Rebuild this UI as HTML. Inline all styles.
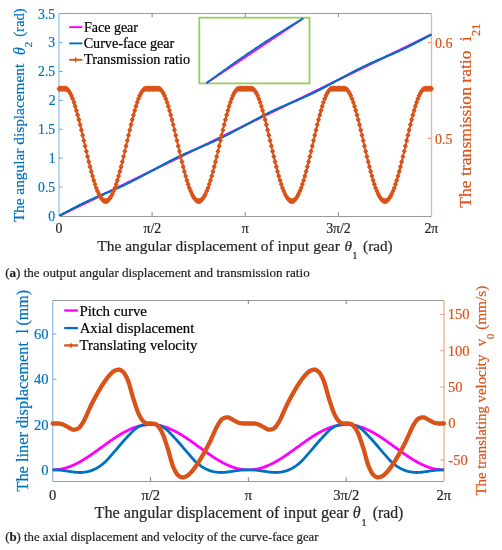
<!DOCTYPE html><html><head><meta charset="utf-8"><style>
*{margin:0;padding:0}
html,body{width:502px;height:550px;overflow:hidden;background:#fff}
text{font-family:"Liberation Serif",serif;white-space:pre}
</style></head><body><svg width="502" height="550" viewBox="0 0 502 550" style="position:absolute;left:0;top:0;will-change:transform">
<rect width="502" height="550" fill="#fff"/>
<defs><clipPath id="ca"><rect x="59.0" y="10.4" width="375.5" height="205.6"/></clipPath></defs>
<line x1="59.0" y1="13.5" x2="431.5" y2="13.5" stroke="#9a9a9a" stroke-width="1"/>
<line x1="59.0" y1="216.5" x2="431.5" y2="216.5" stroke="#9a9a9a" stroke-width="1"/>
<text x="55.55" y="233.30" style="font-size:13.8px" fill="#262626" stroke="#262626" stroke-width="0.2">0</text>
<line x1="152.12" y1="216.0" x2="152.12" y2="212.2" stroke="#777" stroke-width="0.9"/>
<line x1="152.12" y1="13.4" x2="152.12" y2="17.2" stroke="#777" stroke-width="0.9"/>
<text x="143.55" y="233.30" style="font-size:13.8px" fill="#262626" stroke="#262626" stroke-width="0.2">π/2</text>
<line x1="245.25" y1="216.0" x2="245.25" y2="212.2" stroke="#777" stroke-width="0.9"/>
<line x1="245.25" y1="13.4" x2="245.25" y2="17.2" stroke="#777" stroke-width="0.9"/>
<text x="241.80" y="233.30" style="font-size:13.8px" fill="#262626" stroke="#262626" stroke-width="0.2">π</text>
<line x1="338.38" y1="216.0" x2="338.38" y2="212.2" stroke="#777" stroke-width="0.9"/>
<line x1="338.38" y1="13.4" x2="338.38" y2="17.2" stroke="#777" stroke-width="0.9"/>
<text x="326.14" y="233.30" style="font-size:13.8px" fill="#262626" stroke="#262626" stroke-width="0.2">3π/2</text>
<text x="424.39" y="233.30" style="font-size:13.8px" fill="#262626" stroke="#262626" stroke-width="0.2">2π</text>
<line x1="59.0" y1="13.4" x2="59.0" y2="216.0" stroke="#9cc6e6" stroke-width="1.4"/>
<text x="48.36" y="220.80" style="font-size:13.7px" fill="#0072BD" stroke="#0072BD" stroke-width="0.2">0</text>
<line x1="59.0" y1="187.10" x2="62.8" y2="187.10" stroke="#6aa3d5" stroke-width="0.9"/>
<text x="38.09" y="191.90" style="font-size:13.7px" fill="#0072BD" stroke="#0072BD" stroke-width="0.2">0.5</text>
<line x1="59.0" y1="158.20" x2="62.8" y2="158.20" stroke="#6aa3d5" stroke-width="0.9"/>
<text x="48.77" y="163.00" style="font-size:13.7px" fill="#0072BD" stroke="#0072BD" stroke-width="0.2">1</text>
<line x1="59.0" y1="129.30" x2="62.8" y2="129.30" stroke="#6aa3d5" stroke-width="0.9"/>
<text x="38.09" y="134.10" style="font-size:13.7px" fill="#0072BD" stroke="#0072BD" stroke-width="0.2">1.5</text>
<line x1="59.0" y1="100.40" x2="62.8" y2="100.40" stroke="#6aa3d5" stroke-width="0.9"/>
<text x="48.63" y="105.20" style="font-size:13.7px" fill="#0072BD" stroke="#0072BD" stroke-width="0.2">2</text>
<line x1="59.0" y1="71.50" x2="62.8" y2="71.50" stroke="#6aa3d5" stroke-width="0.9"/>
<text x="38.09" y="76.30" style="font-size:13.7px" fill="#0072BD" stroke="#0072BD" stroke-width="0.2">2.5</text>
<line x1="59.0" y1="42.60" x2="62.8" y2="42.60" stroke="#6aa3d5" stroke-width="0.9"/>
<text x="48.36" y="47.40" style="font-size:13.7px" fill="#0072BD" stroke="#0072BD" stroke-width="0.2">3</text>
<text x="38.09" y="18.50" style="font-size:13.7px" fill="#0072BD" stroke="#0072BD" stroke-width="0.2">3.5</text>
<line x1="431.5" y1="13.4" x2="431.5" y2="216.0" stroke="#f0b49a" stroke-width="1.4"/>
<line x1="431.5" y1="138.40" x2="427.7" y2="138.40" stroke="#e8906a" stroke-width="0.9"/>
<text x="434.98" y="143.60" style="font-size:14.0px" fill="#D95319" stroke="#D95319" stroke-width="0.2">0.5</text>
<line x1="431.5" y1="42.50" x2="427.7" y2="42.50" stroke="#e8906a" stroke-width="0.9"/>
<text x="434.98" y="47.70" style="font-size:14.0px" fill="#D95319" stroke="#D95319" stroke-width="0.2">0.6</text>
<g clip-path="url(#ca)">
<polyline points="59.00,216.00 60.24,215.39 61.48,214.79 62.73,214.18 63.97,213.58 65.21,212.97 66.45,212.37 67.69,211.76 68.93,211.16 70.17,210.55 71.42,209.95 72.66,209.34 73.90,208.74 75.14,208.13 76.38,207.53 77.62,206.92 78.87,206.32 80.11,205.71 81.35,205.10 82.59,204.50 83.83,203.89 85.08,203.29 86.32,202.68 87.56,202.08 88.80,201.47 90.04,200.87 91.28,200.26 92.53,199.66 93.77,199.05 95.01,198.45 96.25,197.84 97.49,197.24 98.73,196.63 99.97,196.03 101.22,195.42 102.46,194.82 103.70,194.21 104.94,193.60 106.18,193.00 107.43,192.39 108.67,191.79 109.91,191.18 111.15,190.58 112.39,189.97 113.63,189.37 114.88,188.76 116.12,188.16 117.36,187.55 118.60,186.95 119.84,186.34 121.08,185.74 122.33,185.13 123.57,184.53 124.81,183.92 126.05,183.31 127.29,182.71 128.53,182.10 129.78,181.50 131.02,180.89 132.26,180.29 133.50,179.68 134.74,179.08 135.98,178.47 137.23,177.87 138.47,177.26 139.71,176.66 140.95,176.05 142.19,175.45 143.43,174.84 144.68,174.24 145.92,173.63 147.16,173.03 148.40,172.42 149.64,171.81 150.88,171.21 152.12,170.60 153.37,170.00 154.61,169.39 155.85,168.79 157.09,168.18 158.33,167.58 159.57,166.97 160.82,166.37 162.06,165.76 163.30,165.16 164.54,164.55 165.78,163.95 167.03,163.34 168.27,162.74 169.51,162.13 170.75,161.52 171.99,160.92 173.23,160.31 174.48,159.71 175.72,159.10 176.96,158.50 178.20,157.89 179.44,157.29 180.68,156.68 181.93,156.08 183.17,155.47 184.41,154.87 185.65,154.26 186.89,153.66 188.13,153.05 189.38,152.45 190.62,151.84 191.86,151.24 193.10,150.63 194.34,150.02 195.58,149.42 196.83,148.81 198.07,148.21 199.31,147.60 200.55,147.00 201.79,146.39 203.03,145.79 204.28,145.18 205.52,144.58 206.76,143.97 208.00,143.37 209.24,142.76 210.48,142.16 211.72,141.55 212.97,140.95 214.21,140.34 215.45,139.73 216.69,139.13 217.93,138.52 219.18,137.92 220.42,137.31 221.66,136.71 222.90,136.10 224.14,135.50 225.38,134.89 226.62,134.29 227.87,133.68 229.11,133.08 230.35,132.47 231.59,131.87 232.83,131.26 234.08,130.66 235.32,130.05 236.56,129.44 237.80,128.84 239.04,128.23 240.28,127.63 241.53,127.02 242.77,126.42 244.01,125.81 245.25,125.21 246.49,124.60 247.73,124.00 248.97,123.39 250.22,122.79 251.46,122.18 252.70,121.58 253.94,120.97 255.18,120.37 256.43,119.76 257.67,119.16 258.91,118.55 260.15,117.94 261.39,117.34 262.63,116.73 263.88,116.13 265.12,115.52 266.36,114.92 267.60,114.31 268.84,113.71 270.08,113.10 271.33,112.50 272.57,111.89 273.81,111.29 275.05,110.68 276.29,110.08 277.53,109.47 278.77,108.87 280.02,108.26 281.26,107.65 282.50,107.05 283.74,106.44 284.98,105.84 286.23,105.23 287.47,104.63 288.71,104.02 289.95,103.42 291.19,102.81 292.43,102.21 293.68,101.60 294.92,101.00 296.16,100.39 297.40,99.79 298.64,99.18 299.88,98.58 301.12,97.97 302.37,97.37 303.61,96.76 304.85,96.15 306.09,95.55 307.33,94.94 308.58,94.34 309.82,93.73 311.06,93.13 312.30,92.52 313.54,91.92 314.78,91.31 316.03,90.71 317.27,90.10 318.51,89.50 319.75,88.89 320.99,88.29 322.23,87.68 323.48,87.08 324.72,86.47 325.96,85.86 327.20,85.26 328.44,84.65 329.68,84.05 330.93,83.44 332.17,82.84 333.41,82.23 334.65,81.63 335.89,81.02 337.13,80.42 338.38,79.81 339.62,79.21 340.86,78.60 342.10,78.00 343.34,77.39 344.58,76.79 345.82,76.18 347.07,75.57 348.31,74.97 349.55,74.36 350.79,73.76 352.03,73.15 353.28,72.55 354.52,71.94 355.76,71.34 357.00,70.73 358.24,70.13 359.48,69.52 360.73,68.92 361.97,68.31 363.21,67.71 364.45,67.10 365.69,66.50 366.93,65.89 368.18,65.29 369.42,64.68 370.66,64.07 371.90,63.47 373.14,62.86 374.38,62.26 375.62,61.65 376.87,61.05 378.11,60.44 379.35,59.84 380.59,59.23 381.83,58.63 383.07,58.02 384.32,57.42 385.56,56.81 386.80,56.21 388.04,55.60 389.28,55.00 390.53,54.39 391.77,53.78 393.01,53.18 394.25,52.57 395.49,51.97 396.73,51.36 397.98,50.76 399.22,50.15 400.46,49.55 401.70,48.94 402.94,48.34 404.18,47.73 405.43,47.13 406.67,46.52 407.91,45.92 409.15,45.31 410.39,44.71 411.63,44.10 412.88,43.50 414.12,42.89 415.36,42.28 416.60,41.68 417.84,41.07 419.08,40.47 420.32,39.86 421.57,39.26 422.81,38.65 424.05,38.05 425.29,37.44 426.53,36.84 427.78,36.23 429.02,35.63 430.26,35.02 431.50,34.42" fill="none" stroke="#FF00FF" stroke-width="2.2"/>
<polyline points="59.00,216.00 60.24,215.33 61.48,214.66 62.73,214.00 63.97,213.33 65.21,212.66 66.45,211.99 67.69,211.32 68.93,210.66 70.17,209.99 71.42,209.33 72.66,208.68 73.90,208.02 75.14,207.37 76.38,206.73 77.62,206.09 78.87,205.46 80.11,204.84 81.35,204.22 82.59,203.60 83.83,203.00 85.08,202.40 86.32,201.81 87.56,201.22 88.80,200.64 90.04,200.07 91.28,199.50 92.53,198.94 93.77,198.39 95.01,197.84 96.25,197.29 97.49,196.75 98.73,196.21 99.97,195.68 101.22,195.15 102.46,194.62 103.70,194.09 104.94,193.57 106.18,193.04 107.43,192.51 108.67,191.98 109.91,191.46 111.15,190.92 112.39,190.39 113.63,189.85 114.88,189.31 116.12,188.77 117.36,188.22 118.60,187.66 119.84,187.10 121.08,186.54 122.33,185.96 123.57,185.38 124.81,184.80 126.05,184.21 127.29,183.61 128.53,183.00 129.78,182.39 131.02,181.77 132.26,181.14 133.50,180.51 134.74,179.87 135.98,179.23 137.23,178.58 138.47,177.93 139.71,177.27 140.95,176.61 142.19,175.95 143.43,175.28 144.68,174.61 145.92,173.94 147.16,173.28 148.40,172.61 149.64,171.94 150.88,171.27 152.12,170.60 153.37,169.94 154.61,169.27 155.85,168.60 157.09,167.93 158.33,167.26 159.57,166.60 160.82,165.93 162.06,165.26 163.30,164.60 164.54,163.94 165.78,163.28 167.03,162.63 168.27,161.98 169.51,161.34 170.75,160.70 171.99,160.07 173.23,159.44 174.48,158.82 175.72,158.21 176.96,157.60 178.20,157.00 179.44,156.41 180.68,155.82 181.93,155.25 183.17,154.67 184.41,154.11 185.65,153.55 186.89,152.99 188.13,152.44 189.38,151.89 190.62,151.35 191.86,150.82 193.10,150.28 194.34,149.75 195.58,149.22 196.83,148.70 198.07,148.17 199.31,147.64 200.55,147.12 201.79,146.59 203.03,146.06 204.28,145.53 205.52,145.00 206.76,144.46 208.00,143.92 209.24,143.37 210.48,142.82 211.72,142.27 212.97,141.71 214.21,141.14 215.45,140.57 216.69,139.99 217.93,139.40 219.18,138.81 220.42,138.21 221.66,137.60 222.90,136.99 224.14,136.37 225.38,135.75 226.62,135.11 227.87,134.48 229.11,133.83 230.35,133.18 231.59,132.53 232.83,131.87 234.08,131.21 235.32,130.55 236.56,129.88 237.80,129.22 239.04,128.55 240.28,127.88 241.53,127.21 242.77,126.54 244.01,125.88 245.25,125.21 246.49,124.54 247.73,123.87 248.97,123.20 250.22,122.54 251.46,121.87 252.70,121.20 253.94,120.53 255.18,119.87 256.43,119.20 257.67,118.54 258.91,117.88 260.15,117.23 261.39,116.58 262.63,115.94 263.88,115.30 265.12,114.67 266.36,114.04 267.60,113.42 268.84,112.81 270.08,112.21 271.33,111.61 272.57,111.01 273.81,110.43 275.05,109.85 276.29,109.28 277.53,108.71 278.77,108.15 280.02,107.59 281.26,107.04 282.50,106.50 283.74,105.96 284.98,105.42 286.23,104.89 287.47,104.36 288.71,103.83 289.95,103.30 291.19,102.77 292.43,102.25 293.68,101.72 294.92,101.19 296.16,100.66 297.40,100.13 298.64,99.60 299.88,99.06 301.12,98.52 302.37,97.98 303.61,97.43 304.85,96.87 306.09,96.31 307.33,95.74 308.58,95.17 309.82,94.59 311.06,94.01 312.30,93.41 313.54,92.81 314.78,92.21 316.03,91.60 317.27,90.98 318.51,90.35 319.75,89.72 320.99,89.08 322.23,88.44 323.48,87.79 324.72,87.14 325.96,86.48 327.20,85.82 328.44,85.15 329.68,84.49 330.93,83.82 332.17,83.15 333.41,82.48 334.65,81.82 335.89,81.15 337.13,80.48 338.38,79.81 339.62,79.14 340.86,78.48 342.10,77.81 343.34,77.14 344.58,76.47 345.82,75.80 347.07,75.14 348.31,74.47 349.55,73.81 350.79,73.15 352.03,72.49 353.28,71.84 354.52,71.19 355.76,70.54 357.00,69.91 358.24,69.27 359.48,68.65 360.73,68.03 361.97,67.42 363.21,66.81 364.45,66.21 365.69,65.62 366.93,65.03 368.18,64.45 369.42,63.88 370.66,63.31 371.90,62.75 373.14,62.20 374.38,61.65 375.62,61.10 376.87,60.56 378.11,60.02 379.35,59.49 380.59,58.96 381.83,58.43 383.07,57.90 384.32,57.38 385.56,56.85 386.80,56.32 388.04,55.80 389.28,55.27 390.53,54.74 391.77,54.20 393.01,53.67 394.25,53.13 395.49,52.58 396.73,52.03 397.98,51.47 399.22,50.91 400.46,50.35 401.70,49.77 402.94,49.20 404.18,48.61 405.43,48.02 406.67,47.42 407.91,46.81 409.15,46.20 410.39,45.58 411.63,44.95 412.88,44.32 414.12,43.68 415.36,43.04 416.60,42.39 417.84,41.74 419.08,41.08 420.32,40.42 421.57,39.76 422.81,39.09 424.05,38.42 425.29,37.76 426.53,37.09 427.78,36.42 429.02,35.75 430.26,35.08 431.50,34.42" fill="none" stroke="#0072BD" stroke-width="2.2"/>
</g>
<polyline points="59.00,88.80 60.24,88.80 61.48,88.80 62.73,88.80 63.97,88.80 65.21,88.80 66.45,88.88 67.69,89.67 68.93,91.13 70.17,93.19 71.42,95.77 72.66,98.84 73.90,102.34 75.14,106.23 76.38,110.47 77.62,115.01 78.87,119.80 80.11,124.81 81.35,129.98 82.59,135.26 83.83,140.61 85.08,145.99 86.32,151.33 87.56,156.61 88.80,161.76 90.04,166.76 91.28,171.55 92.53,176.10 93.77,180.36 95.01,184.30 96.25,187.90 97.49,191.11 98.73,193.92 99.97,196.29 101.22,198.21 102.46,199.67 103.70,200.65 104.94,201.14 106.18,201.14 107.43,200.65 108.67,199.67 109.91,198.21 111.15,196.29 112.39,193.92 113.63,191.11 114.88,187.90 116.12,184.30 117.36,180.36 118.60,176.10 119.84,171.55 121.08,166.76 122.33,161.76 123.57,156.61 124.81,151.33 126.05,145.99 127.29,140.61 128.53,135.26 129.78,129.98 131.02,124.81 132.26,119.80 133.50,115.01 134.74,110.47 135.98,106.23 137.23,102.34 138.47,98.84 139.71,95.77 140.95,93.19 142.19,91.13 143.43,89.67 144.68,88.88 145.92,88.80 147.16,88.80 148.40,88.80 149.64,88.80 150.88,88.80 152.12,88.80 153.37,88.80 154.61,88.80 155.85,88.80 157.09,88.80 158.33,88.80 159.57,88.88 160.82,89.67 162.06,91.13 163.30,93.19 164.54,95.77 165.78,98.84 167.03,102.34 168.27,106.23 169.51,110.47 170.75,115.01 171.99,119.80 173.23,124.81 174.48,129.98 175.72,135.26 176.96,140.61 178.20,145.99 179.44,151.33 180.68,156.61 181.93,161.76 183.17,166.76 184.41,171.55 185.65,176.10 186.89,180.36 188.13,184.30 189.38,187.90 190.62,191.11 191.86,193.92 193.10,196.29 194.34,198.21 195.58,199.67 196.83,200.65 198.07,201.14 199.31,201.14 200.55,200.65 201.79,199.67 203.03,198.21 204.28,196.29 205.52,193.92 206.76,191.11 208.00,187.90 209.24,184.30 210.48,180.36 211.72,176.10 212.97,171.55 214.21,166.76 215.45,161.76 216.69,156.61 217.93,151.33 219.18,145.99 220.42,140.61 221.66,135.26 222.90,129.98 224.14,124.81 225.38,119.80 226.62,115.01 227.87,110.47 229.11,106.23 230.35,102.34 231.59,98.84 232.83,95.77 234.08,93.19 235.32,91.13 236.56,89.67 237.80,88.88 239.04,88.80 240.28,88.80 241.53,88.80 242.77,88.80 244.01,88.80 245.25,88.80 246.49,88.80 247.73,88.80 248.97,88.80 250.22,88.80 251.46,88.80 252.70,88.88 253.94,89.67 255.18,91.13 256.43,93.19 257.67,95.77 258.91,98.84 260.15,102.34 261.39,106.23 262.63,110.47 263.88,115.01 265.12,119.80 266.36,124.81 267.60,129.98 268.84,135.26 270.08,140.61 271.33,145.99 272.57,151.33 273.81,156.61 275.05,161.76 276.29,166.76 277.53,171.55 278.77,176.10 280.02,180.36 281.26,184.30 282.50,187.90 283.74,191.11 284.98,193.92 286.23,196.29 287.47,198.21 288.71,199.67 289.95,200.65 291.19,201.14 292.43,201.14 293.68,200.65 294.92,199.67 296.16,198.21 297.40,196.29 298.64,193.92 299.88,191.11 301.12,187.90 302.37,184.30 303.61,180.36 304.85,176.10 306.09,171.55 307.33,166.76 308.58,161.76 309.82,156.61 311.06,151.33 312.30,145.99 313.54,140.61 314.78,135.26 316.03,129.98 317.27,124.81 318.51,119.80 319.75,115.01 320.99,110.47 322.23,106.23 323.48,102.34 324.72,98.84 325.96,95.77 327.20,93.19 328.44,91.13 329.68,89.67 330.93,88.88 332.17,88.80 333.41,88.80 334.65,88.80 335.89,88.80 337.13,88.80 338.38,88.80 339.62,88.80 340.86,88.80 342.10,88.80 343.34,88.80 344.58,88.80 345.82,88.88 347.07,89.67 348.31,91.13 349.55,93.19 350.79,95.77 352.03,98.84 353.28,102.34 354.52,106.23 355.76,110.47 357.00,115.01 358.24,119.80 359.48,124.81 360.73,129.98 361.97,135.26 363.21,140.61 364.45,145.99 365.69,151.33 366.93,156.61 368.18,161.76 369.42,166.76 370.66,171.55 371.90,176.10 373.14,180.36 374.38,184.30 375.62,187.90 376.87,191.11 378.11,193.92 379.35,196.29 380.59,198.21 381.83,199.67 383.07,200.65 384.32,201.14 385.56,201.14 386.80,200.65 388.04,199.67 389.28,198.21 390.53,196.29 391.77,193.92 393.01,191.11 394.25,187.90 395.49,184.30 396.73,180.36 397.98,176.10 399.22,171.55 400.46,166.76 401.70,161.76 402.94,156.61 404.18,151.33 405.43,145.99 406.67,140.61 407.91,135.26 409.15,129.98 410.39,124.81 411.63,119.80 412.88,115.01 414.12,110.47 415.36,106.23 416.60,102.34 417.84,98.84 419.08,95.77 420.32,93.19 421.57,91.13 422.81,89.67 424.05,88.88 425.29,88.80 426.53,88.80 427.78,88.80 429.02,88.80 430.26,88.80 431.50,88.80" fill="none" stroke="#D95319" stroke-width="1.6"/>
<path d="M56.50,88.80L59.00,85.60L61.50,88.80L59.00,92.00ZM57.74,88.80L60.24,85.60L62.74,88.80L60.24,92.00ZM58.98,88.80L61.48,85.60L63.98,88.80L61.48,92.00ZM60.23,88.80L62.73,85.60L65.22,88.80L62.73,92.00ZM61.47,88.80L63.97,85.60L66.47,88.80L63.97,92.00ZM62.71,88.80L65.21,85.60L67.71,88.80L65.21,92.00ZM63.95,88.88L66.45,85.68L68.95,88.88L66.45,92.08ZM65.19,89.67L67.69,86.47L70.19,89.67L67.69,92.87ZM66.43,91.13L68.93,87.93L71.43,91.13L68.93,94.33ZM67.67,93.19L70.17,89.99L72.67,93.19L70.17,96.39ZM68.92,95.77L71.42,92.57L73.92,95.77L71.42,98.97ZM70.16,98.84L72.66,95.64L75.16,98.84L72.66,102.04ZM71.40,102.34L73.90,99.14L76.40,102.34L73.90,105.54ZM72.64,106.23L75.14,103.03L77.64,106.23L75.14,109.43ZM73.88,110.47L76.38,107.27L78.88,110.47L76.38,113.67ZM75.12,115.01L77.62,111.81L80.12,115.01L77.62,118.21ZM76.37,119.80L78.87,116.60L81.37,119.80L78.87,123.00ZM77.61,124.81L80.11,121.61L82.61,124.81L80.11,128.01ZM78.85,129.98L81.35,126.78L83.85,129.98L81.35,133.18ZM80.09,135.26L82.59,132.06L85.09,135.26L82.59,138.46ZM81.33,140.61L83.83,137.41L86.33,140.61L83.83,143.81ZM82.58,145.99L85.08,142.79L87.58,145.99L85.08,149.19ZM83.82,151.33L86.32,148.13L88.82,151.33L86.32,154.53ZM85.06,156.61L87.56,153.41L90.06,156.61L87.56,159.81ZM86.30,161.76L88.80,158.56L91.30,161.76L88.80,164.96ZM87.54,166.76L90.04,163.56L92.54,166.76L90.04,169.96ZM88.78,171.55L91.28,168.35L93.78,171.55L91.28,174.75ZM90.03,176.10L92.53,172.90L95.03,176.10L92.53,179.30ZM91.27,180.36L93.77,177.16L96.27,180.36L93.77,183.56ZM92.51,184.30L95.01,181.10L97.51,184.30L95.01,187.50ZM93.75,187.90L96.25,184.70L98.75,187.90L96.25,191.10ZM94.99,191.11L97.49,187.91L99.99,191.11L97.49,194.31ZM96.23,193.92L98.73,190.72L101.23,193.92L98.73,197.12ZM97.47,196.29L99.97,193.09L102.47,196.29L99.97,199.49ZM98.72,198.21L101.22,195.01L103.72,198.21L101.22,201.41ZM99.96,199.67L102.46,196.47L104.96,199.67L102.46,202.87ZM101.20,200.65L103.70,197.45L106.20,200.65L103.70,203.85ZM102.44,201.14L104.94,197.94L107.44,201.14L104.94,204.34ZM103.68,201.14L106.18,197.94L108.68,201.14L106.18,204.34ZM104.93,200.65L107.43,197.45L109.93,200.65L107.43,203.85ZM106.17,199.67L108.67,196.47L111.17,199.67L108.67,202.87ZM107.41,198.21L109.91,195.01L112.41,198.21L109.91,201.41ZM108.65,196.29L111.15,193.09L113.65,196.29L111.15,199.49ZM109.89,193.92L112.39,190.72L114.89,193.92L112.39,197.12ZM111.13,191.11L113.63,187.91L116.13,191.11L113.63,194.31ZM112.38,187.90L114.88,184.70L117.38,187.90L114.88,191.10ZM113.62,184.30L116.12,181.10L118.62,184.30L116.12,187.50ZM114.86,180.36L117.36,177.16L119.86,180.36L117.36,183.56ZM116.10,176.10L118.60,172.90L121.10,176.10L118.60,179.30ZM117.34,171.55L119.84,168.35L122.34,171.55L119.84,174.75ZM118.58,166.76L121.08,163.56L123.58,166.76L121.08,169.96ZM119.83,161.76L122.33,158.56L124.83,161.76L122.33,164.96ZM121.07,156.61L123.57,153.41L126.07,156.61L123.57,159.81ZM122.31,151.33L124.81,148.13L127.31,151.33L124.81,154.53ZM123.55,145.99L126.05,142.79L128.55,145.99L126.05,149.19ZM124.79,140.61L127.29,137.41L129.79,140.61L127.29,143.81ZM126.03,135.26L128.53,132.06L131.03,135.26L128.53,138.46ZM127.28,129.98L129.78,126.78L132.28,129.98L129.78,133.18ZM128.52,124.81L131.02,121.61L133.52,124.81L131.02,128.01ZM129.76,119.80L132.26,116.60L134.76,119.80L132.26,123.00ZM131.00,115.01L133.50,111.81L136.00,115.01L133.50,118.21ZM132.24,110.47L134.74,107.27L137.24,110.47L134.74,113.67ZM133.48,106.23L135.98,103.03L138.48,106.23L135.98,109.43ZM134.73,102.34L137.23,99.14L139.73,102.34L137.23,105.54ZM135.97,98.84L138.47,95.64L140.97,98.84L138.47,102.04ZM137.21,95.77L139.71,92.57L142.21,95.77L139.71,98.97ZM138.45,93.19L140.95,89.99L143.45,93.19L140.95,96.39ZM139.69,91.13L142.19,87.93L144.69,91.13L142.19,94.33ZM140.93,89.67L143.43,86.47L145.93,89.67L143.43,92.87ZM142.18,88.88L144.68,85.68L147.18,88.88L144.68,92.08ZM143.42,88.80L145.92,85.60L148.42,88.80L145.92,92.00ZM144.66,88.80L147.16,85.60L149.66,88.80L147.16,92.00ZM145.90,88.80L148.40,85.60L150.90,88.80L148.40,92.00ZM147.14,88.80L149.64,85.60L152.14,88.80L149.64,92.00ZM148.38,88.80L150.88,85.60L153.38,88.80L150.88,92.00ZM149.62,88.80L152.12,85.60L154.62,88.80L152.12,92.00ZM150.87,88.80L153.37,85.60L155.87,88.80L153.37,92.00ZM152.11,88.80L154.61,85.60L157.11,88.80L154.61,92.00ZM153.35,88.80L155.85,85.60L158.35,88.80L155.85,92.00ZM154.59,88.80L157.09,85.60L159.59,88.80L157.09,92.00ZM155.83,88.80L158.33,85.60L160.83,88.80L158.33,92.00ZM157.07,88.88L159.57,85.68L162.07,88.88L159.57,92.08ZM158.32,89.67L160.82,86.47L163.32,89.67L160.82,92.87ZM159.56,91.13L162.06,87.93L164.56,91.13L162.06,94.33ZM160.80,93.19L163.30,89.99L165.80,93.19L163.30,96.39ZM162.04,95.77L164.54,92.57L167.04,95.77L164.54,98.97ZM163.28,98.84L165.78,95.64L168.28,98.84L165.78,102.04ZM164.53,102.34L167.03,99.14L169.53,102.34L167.03,105.54ZM165.77,106.23L168.27,103.03L170.77,106.23L168.27,109.43ZM167.01,110.47L169.51,107.27L172.01,110.47L169.51,113.67ZM168.25,115.01L170.75,111.81L173.25,115.01L170.75,118.21ZM169.49,119.80L171.99,116.60L174.49,119.80L171.99,123.00ZM170.73,124.81L173.23,121.61L175.73,124.81L173.23,128.01ZM171.98,129.98L174.48,126.78L176.98,129.98L174.48,133.18ZM173.22,135.26L175.72,132.06L178.22,135.26L175.72,138.46ZM174.46,140.61L176.96,137.41L179.46,140.61L176.96,143.81ZM175.70,145.99L178.20,142.79L180.70,145.99L178.20,149.19ZM176.94,151.33L179.44,148.13L181.94,151.33L179.44,154.53ZM178.18,156.61L180.68,153.41L183.18,156.61L180.68,159.81ZM179.43,161.76L181.93,158.56L184.43,161.76L181.93,164.96ZM180.67,166.76L183.17,163.56L185.67,166.76L183.17,169.96ZM181.91,171.55L184.41,168.35L186.91,171.55L184.41,174.75ZM183.15,176.10L185.65,172.90L188.15,176.10L185.65,179.30ZM184.39,180.36L186.89,177.16L189.39,180.36L186.89,183.56ZM185.63,184.30L188.13,181.10L190.63,184.30L188.13,187.50ZM186.88,187.90L189.38,184.70L191.88,187.90L189.38,191.10ZM188.12,191.11L190.62,187.91L193.12,191.11L190.62,194.31ZM189.36,193.92L191.86,190.72L194.36,193.92L191.86,197.12ZM190.60,196.29L193.10,193.09L195.60,196.29L193.10,199.49ZM191.84,198.21L194.34,195.01L196.84,198.21L194.34,201.41ZM193.08,199.67L195.58,196.47L198.08,199.67L195.58,202.87ZM194.33,200.65L196.83,197.45L199.33,200.65L196.83,203.85ZM195.57,201.14L198.07,197.94L200.57,201.14L198.07,204.34ZM196.81,201.14L199.31,197.94L201.81,201.14L199.31,204.34ZM198.05,200.65L200.55,197.45L203.05,200.65L200.55,203.85ZM199.29,199.67L201.79,196.47L204.29,199.67L201.79,202.87ZM200.53,198.21L203.03,195.01L205.53,198.21L203.03,201.41ZM201.78,196.29L204.28,193.09L206.78,196.29L204.28,199.49ZM203.02,193.92L205.52,190.72L208.02,193.92L205.52,197.12ZM204.26,191.11L206.76,187.91L209.26,191.11L206.76,194.31ZM205.50,187.90L208.00,184.70L210.50,187.90L208.00,191.10ZM206.74,184.30L209.24,181.10L211.74,184.30L209.24,187.50ZM207.98,180.36L210.48,177.16L212.98,180.36L210.48,183.56ZM209.22,176.10L211.72,172.90L214.22,176.10L211.72,179.30ZM210.47,171.55L212.97,168.35L215.47,171.55L212.97,174.75ZM211.71,166.76L214.21,163.56L216.71,166.76L214.21,169.96ZM212.95,161.76L215.45,158.56L217.95,161.76L215.45,164.96ZM214.19,156.61L216.69,153.41L219.19,156.61L216.69,159.81ZM215.43,151.33L217.93,148.13L220.43,151.33L217.93,154.53ZM216.68,145.99L219.18,142.79L221.68,145.99L219.18,149.19ZM217.92,140.61L220.42,137.41L222.92,140.61L220.42,143.81ZM219.16,135.26L221.66,132.06L224.16,135.26L221.66,138.46ZM220.40,129.98L222.90,126.78L225.40,129.98L222.90,133.18ZM221.64,124.81L224.14,121.61L226.64,124.81L224.14,128.01ZM222.88,119.80L225.38,116.60L227.88,119.80L225.38,123.00ZM224.12,115.01L226.62,111.81L229.12,115.01L226.62,118.21ZM225.37,110.47L227.87,107.27L230.37,110.47L227.87,113.67ZM226.61,106.23L229.11,103.03L231.61,106.23L229.11,109.43ZM227.85,102.34L230.35,99.14L232.85,102.34L230.35,105.54ZM229.09,98.84L231.59,95.64L234.09,98.84L231.59,102.04ZM230.33,95.77L232.83,92.57L235.33,95.77L232.83,98.97ZM231.58,93.19L234.08,89.99L236.58,93.19L234.08,96.39ZM232.82,91.13L235.32,87.93L237.82,91.13L235.32,94.33ZM234.06,89.67L236.56,86.47L239.06,89.67L236.56,92.87ZM235.30,88.88L237.80,85.68L240.30,88.88L237.80,92.08ZM236.54,88.80L239.04,85.60L241.54,88.80L239.04,92.00ZM237.78,88.80L240.28,85.60L242.78,88.80L240.28,92.00ZM239.03,88.80L241.53,85.60L244.03,88.80L241.53,92.00ZM240.27,88.80L242.77,85.60L245.27,88.80L242.77,92.00ZM241.51,88.80L244.01,85.60L246.51,88.80L244.01,92.00ZM242.75,88.80L245.25,85.60L247.75,88.80L245.25,92.00ZM243.99,88.80L246.49,85.60L248.99,88.80L246.49,92.00ZM245.23,88.80L247.73,85.60L250.23,88.80L247.73,92.00ZM246.47,88.80L248.97,85.60L251.47,88.80L248.97,92.00ZM247.72,88.80L250.22,85.60L252.72,88.80L250.22,92.00ZM248.96,88.80L251.46,85.60L253.96,88.80L251.46,92.00ZM250.20,88.88L252.70,85.68L255.20,88.88L252.70,92.08ZM251.44,89.67L253.94,86.47L256.44,89.67L253.94,92.87ZM252.68,91.13L255.18,87.93L257.68,91.13L255.18,94.33ZM253.93,93.19L256.43,89.99L258.93,93.19L256.43,96.39ZM255.17,95.77L257.67,92.57L260.17,95.77L257.67,98.97ZM256.41,98.84L258.91,95.64L261.41,98.84L258.91,102.04ZM257.65,102.34L260.15,99.14L262.65,102.34L260.15,105.54ZM258.89,106.23L261.39,103.03L263.89,106.23L261.39,109.43ZM260.13,110.47L262.63,107.27L265.13,110.47L262.63,113.67ZM261.38,115.01L263.88,111.81L266.38,115.01L263.88,118.21ZM262.62,119.80L265.12,116.60L267.62,119.80L265.12,123.00ZM263.86,124.81L266.36,121.61L268.86,124.81L266.36,128.01ZM265.10,129.98L267.60,126.78L270.10,129.98L267.60,133.18ZM266.34,135.26L268.84,132.06L271.34,135.26L268.84,138.46ZM267.58,140.61L270.08,137.41L272.58,140.61L270.08,143.81ZM268.83,145.99L271.33,142.79L273.83,145.99L271.33,149.19ZM270.07,151.33L272.57,148.13L275.07,151.33L272.57,154.53ZM271.31,156.61L273.81,153.41L276.31,156.61L273.81,159.81ZM272.55,161.76L275.05,158.56L277.55,161.76L275.05,164.96ZM273.79,166.76L276.29,163.56L278.79,166.76L276.29,169.96ZM275.03,171.55L277.53,168.35L280.03,171.55L277.53,174.75ZM276.27,176.10L278.77,172.90L281.27,176.10L278.77,179.30ZM277.52,180.36L280.02,177.16L282.52,180.36L280.02,183.56ZM278.76,184.30L281.26,181.10L283.76,184.30L281.26,187.50ZM280.00,187.90L282.50,184.70L285.00,187.90L282.50,191.10ZM281.24,191.11L283.74,187.91L286.24,191.11L283.74,194.31ZM282.48,193.92L284.98,190.72L287.48,193.92L284.98,197.12ZM283.73,196.29L286.23,193.09L288.73,196.29L286.23,199.49ZM284.97,198.21L287.47,195.01L289.97,198.21L287.47,201.41ZM286.21,199.67L288.71,196.47L291.21,199.67L288.71,202.87ZM287.45,200.65L289.95,197.45L292.45,200.65L289.95,203.85ZM288.69,201.14L291.19,197.94L293.69,201.14L291.19,204.34ZM289.93,201.14L292.43,197.94L294.93,201.14L292.43,204.34ZM291.18,200.65L293.68,197.45L296.18,200.65L293.68,203.85ZM292.42,199.67L294.92,196.47L297.42,199.67L294.92,202.87ZM293.66,198.21L296.16,195.01L298.66,198.21L296.16,201.41ZM294.90,196.29L297.40,193.09L299.90,196.29L297.40,199.49ZM296.14,193.92L298.64,190.72L301.14,193.92L298.64,197.12ZM297.38,191.11L299.88,187.91L302.38,191.11L299.88,194.31ZM298.62,187.90L301.12,184.70L303.62,187.90L301.12,191.10ZM299.87,184.30L302.37,181.10L304.87,184.30L302.37,187.50ZM301.11,180.36L303.61,177.16L306.11,180.36L303.61,183.56ZM302.35,176.10L304.85,172.90L307.35,176.10L304.85,179.30ZM303.59,171.55L306.09,168.35L308.59,171.55L306.09,174.75ZM304.83,166.76L307.33,163.56L309.83,166.76L307.33,169.96ZM306.08,161.76L308.58,158.56L311.08,161.76L308.58,164.96ZM307.32,156.61L309.82,153.41L312.32,156.61L309.82,159.81ZM308.56,151.33L311.06,148.13L313.56,151.33L311.06,154.53ZM309.80,145.99L312.30,142.79L314.80,145.99L312.30,149.19ZM311.04,140.61L313.54,137.41L316.04,140.61L313.54,143.81ZM312.28,135.26L314.78,132.06L317.28,135.26L314.78,138.46ZM313.53,129.98L316.03,126.78L318.53,129.98L316.03,133.18ZM314.77,124.81L317.27,121.61L319.77,124.81L317.27,128.01ZM316.01,119.80L318.51,116.60L321.01,119.80L318.51,123.00ZM317.25,115.01L319.75,111.81L322.25,115.01L319.75,118.21ZM318.49,110.47L320.99,107.27L323.49,110.47L320.99,113.67ZM319.73,106.23L322.23,103.03L324.73,106.23L322.23,109.43ZM320.98,102.34L323.48,99.14L325.98,102.34L323.48,105.54ZM322.22,98.84L324.72,95.64L327.22,98.84L324.72,102.04ZM323.46,95.77L325.96,92.57L328.46,95.77L325.96,98.97ZM324.70,93.19L327.20,89.99L329.70,93.19L327.20,96.39ZM325.94,91.13L328.44,87.93L330.94,91.13L328.44,94.33ZM327.18,89.67L329.68,86.47L332.18,89.67L329.68,92.87ZM328.43,88.88L330.93,85.68L333.43,88.88L330.93,92.08ZM329.67,88.80L332.17,85.60L334.67,88.80L332.17,92.00ZM330.91,88.80L333.41,85.60L335.91,88.80L333.41,92.00ZM332.15,88.80L334.65,85.60L337.15,88.80L334.65,92.00ZM333.39,88.80L335.89,85.60L338.39,88.80L335.89,92.00ZM334.63,88.80L337.13,85.60L339.63,88.80L337.13,92.00ZM335.88,88.80L338.38,85.60L340.88,88.80L338.38,92.00ZM337.12,88.80L339.62,85.60L342.12,88.80L339.62,92.00ZM338.36,88.80L340.86,85.60L343.36,88.80L340.86,92.00ZM339.60,88.80L342.10,85.60L344.60,88.80L342.10,92.00ZM340.84,88.80L343.34,85.60L345.84,88.80L343.34,92.00ZM342.08,88.80L344.58,85.60L347.08,88.80L344.58,92.00ZM343.32,88.88L345.82,85.68L348.32,88.88L345.82,92.08ZM344.57,89.67L347.07,86.47L349.57,89.67L347.07,92.87ZM345.81,91.13L348.31,87.93L350.81,91.13L348.31,94.33ZM347.05,93.19L349.55,89.99L352.05,93.19L349.55,96.39ZM348.29,95.77L350.79,92.57L353.29,95.77L350.79,98.97ZM349.53,98.84L352.03,95.64L354.53,98.84L352.03,102.04ZM350.78,102.34L353.28,99.14L355.78,102.34L353.28,105.54ZM352.02,106.23L354.52,103.03L357.02,106.23L354.52,109.43ZM353.26,110.47L355.76,107.27L358.26,110.47L355.76,113.67ZM354.50,115.01L357.00,111.81L359.50,115.01L357.00,118.21ZM355.74,119.80L358.24,116.60L360.74,119.80L358.24,123.00ZM356.98,124.81L359.48,121.61L361.98,124.81L359.48,128.01ZM358.23,129.98L360.73,126.78L363.23,129.98L360.73,133.18ZM359.47,135.26L361.97,132.06L364.47,135.26L361.97,138.46ZM360.71,140.61L363.21,137.41L365.71,140.61L363.21,143.81ZM361.95,145.99L364.45,142.79L366.95,145.99L364.45,149.19ZM363.19,151.33L365.69,148.13L368.19,151.33L365.69,154.53ZM364.43,156.61L366.93,153.41L369.43,156.61L366.93,159.81ZM365.68,161.76L368.18,158.56L370.68,161.76L368.18,164.96ZM366.92,166.76L369.42,163.56L371.92,166.76L369.42,169.96ZM368.16,171.55L370.66,168.35L373.16,171.55L370.66,174.75ZM369.40,176.10L371.90,172.90L374.40,176.10L371.90,179.30ZM370.64,180.36L373.14,177.16L375.64,180.36L373.14,183.56ZM371.88,184.30L374.38,181.10L376.88,184.30L374.38,187.50ZM373.12,187.90L375.62,184.70L378.12,187.90L375.62,191.10ZM374.37,191.11L376.87,187.91L379.37,191.11L376.87,194.31ZM375.61,193.92L378.11,190.72L380.61,193.92L378.11,197.12ZM376.85,196.29L379.35,193.09L381.85,196.29L379.35,199.49ZM378.09,198.21L380.59,195.01L383.09,198.21L380.59,201.41ZM379.33,199.67L381.83,196.47L384.33,199.67L381.83,202.87ZM380.57,200.65L383.07,197.45L385.57,200.65L383.07,203.85ZM381.82,201.14L384.32,197.94L386.82,201.14L384.32,204.34ZM383.06,201.14L385.56,197.94L388.06,201.14L385.56,204.34ZM384.30,200.65L386.80,197.45L389.30,200.65L386.80,203.85ZM385.54,199.67L388.04,196.47L390.54,199.67L388.04,202.87ZM386.78,198.21L389.28,195.01L391.78,198.21L389.28,201.41ZM388.03,196.29L390.53,193.09L393.03,196.29L390.53,199.49ZM389.27,193.92L391.77,190.72L394.27,193.92L391.77,197.12ZM390.51,191.11L393.01,187.91L395.51,191.11L393.01,194.31ZM391.75,187.90L394.25,184.70L396.75,187.90L394.25,191.10ZM392.99,184.30L395.49,181.10L397.99,184.30L395.49,187.50ZM394.23,180.36L396.73,177.16L399.23,180.36L396.73,183.56ZM395.48,176.10L397.98,172.90L400.48,176.10L397.98,179.30ZM396.72,171.55L399.22,168.35L401.72,171.55L399.22,174.75ZM397.96,166.76L400.46,163.56L402.96,166.76L400.46,169.96ZM399.20,161.76L401.70,158.56L404.20,161.76L401.70,164.96ZM400.44,156.61L402.94,153.41L405.44,156.61L402.94,159.81ZM401.68,151.33L404.18,148.13L406.68,151.33L404.18,154.53ZM402.93,145.99L405.43,142.79L407.93,145.99L405.43,149.19ZM404.17,140.61L406.67,137.41L409.17,140.61L406.67,143.81ZM405.41,135.26L407.91,132.06L410.41,135.26L407.91,138.46ZM406.65,129.98L409.15,126.78L411.65,129.98L409.15,133.18ZM407.89,124.81L410.39,121.61L412.89,124.81L410.39,128.01ZM409.13,119.80L411.63,116.60L414.13,119.80L411.63,123.00ZM410.38,115.01L412.88,111.81L415.38,115.01L412.88,118.21ZM411.62,110.47L414.12,107.27L416.62,110.47L414.12,113.67ZM412.86,106.23L415.36,103.03L417.86,106.23L415.36,109.43ZM414.10,102.34L416.60,99.14L419.10,102.34L416.60,105.54ZM415.34,98.84L417.84,95.64L420.34,98.84L417.84,102.04ZM416.58,95.77L419.08,92.57L421.58,95.77L419.08,98.97ZM417.82,93.19L420.32,89.99L422.82,93.19L420.32,96.39ZM419.07,91.13L421.57,87.93L424.07,91.13L421.57,94.33ZM420.31,89.67L422.81,86.47L425.31,89.67L422.81,92.87ZM421.55,88.88L424.05,85.68L426.55,88.88L424.05,92.08ZM422.79,88.80L425.29,85.60L427.79,88.80L425.29,92.00ZM424.03,88.80L426.53,85.60L429.03,88.80L426.53,92.00ZM425.28,88.80L427.78,85.60L430.28,88.80L427.78,92.00ZM426.52,88.80L429.02,85.60L431.52,88.80L429.02,92.00ZM427.76,88.80L430.26,85.60L432.76,88.80L430.26,92.00ZM429.00,88.80L431.50,85.60L434.00,88.80L431.50,92.00Z" fill="#D95319"/>
<rect x="199.3" y="17.7" width="110.19999999999999" height="65.7" fill="#fff" stroke="#95CF5A" stroke-width="1.8"/>
<polyline points="206.40,83.30 208.04,82.20 209.68,81.10 211.32,80.01 212.96,78.91 214.60,77.81 216.24,76.71 217.88,75.61 219.53,74.51 221.17,73.42 222.81,72.32 224.45,71.22 226.09,70.12 227.73,69.02 229.37,67.92 231.01,66.83 232.65,65.73 234.29,64.63 235.93,63.53 237.57,62.43 239.21,61.33 240.85,60.24 242.49,59.14 244.14,58.04 245.78,56.94 247.42,55.84 249.06,54.74 250.70,53.65 252.34,52.55 253.98,51.45 255.62,50.35 257.26,49.25 258.90,48.15 260.54,47.06 262.18,45.96 263.82,44.86 265.46,43.76 267.11,42.66 268.75,41.56 270.39,40.47 272.03,39.37 273.67,38.27 275.31,37.17 276.95,36.07 278.59,34.97 280.23,33.88 281.87,32.78 283.51,31.68 285.15,30.58 286.79,29.48 288.43,28.38 290.07,27.29 291.72,26.19 293.36,25.09 295.00,23.99 296.64,22.89 298.28,21.79 299.92,20.70 301.56,19.60 303.20,18.50" fill="none" stroke="#FF00FF" stroke-width="1.8"/>
<polyline points="206.40,83.00 208.04,81.85 209.68,80.69 211.32,79.52 212.96,78.34 214.60,77.17 216.24,75.99 217.88,74.81 219.53,73.62 221.17,72.44 222.81,71.26 224.45,70.08 226.09,68.91 227.73,67.73 229.37,66.56 231.01,65.39 232.65,64.22 234.29,63.05 235.93,61.89 237.57,60.74 239.21,59.59 240.85,58.44 242.49,57.30 244.14,56.16 245.78,55.03 247.42,53.90 249.06,52.78 250.70,51.66 252.34,50.55 253.98,49.45 255.62,48.35 257.26,47.26 258.90,46.17 260.54,45.09 262.18,44.02 263.82,42.95 265.46,41.88 267.11,40.82 268.75,39.77 270.39,38.72 272.03,37.67 273.67,36.63 275.31,35.60 276.95,34.56 278.59,33.54 280.23,32.51 281.87,31.49 283.51,30.47 285.15,29.45 286.79,28.43 288.43,27.41 290.07,26.40 291.72,25.38 293.36,24.37 295.00,23.35 296.64,22.33 298.28,21.31 299.92,20.28 301.56,19.25 303.20,18.20" fill="none" stroke="#0072BD" stroke-width="1.9"/>
<line x1="69.2" y1="27.10" x2="82.4" y2="27.10" stroke="#FF00FF" stroke-width="1.9"/>
<line x1="69.2" y1="43.40" x2="82.4" y2="43.40" stroke="#0072BD" stroke-width="1.9"/>
<line x1="69.2" y1="59.80" x2="82.4" y2="59.80" stroke="#D95319" stroke-width="1.9"/>
<path d="M74.1,59.80L75.7,56.80L77.3,59.80L75.7,62.80Z" fill="#D95319"/>
<line x1="52.7" y1="300.5" x2="444.0" y2="300.5" stroke="#9a9a9a" stroke-width="1"/>
<line x1="52.7" y1="481.5" x2="444.0" y2="481.5" stroke="#9a9a9a" stroke-width="1"/>
<text x="49.05" y="499.90" style="font-size:14.6px" fill="#262626" stroke="#262626" stroke-width="0.2">0</text>
<line x1="150.53" y1="481.0" x2="150.53" y2="477.2" stroke="#777" stroke-width="0.9"/>
<text x="141.45" y="499.90" style="font-size:14.6px" fill="#262626" stroke="#262626" stroke-width="0.2">π/2</text>
<line x1="248.35" y1="481.0" x2="248.35" y2="477.2" stroke="#777" stroke-width="0.9"/>
<line x1="248.35" y1="300.3" x2="248.35" y2="304.1" stroke="#777" stroke-width="0.9"/>
<text x="244.70" y="499.90" style="font-size:14.6px" fill="#262626" stroke="#262626" stroke-width="0.2">π</text>
<line x1="346.18" y1="481.0" x2="346.18" y2="477.2" stroke="#777" stroke-width="0.9"/>
<line x1="346.18" y1="300.3" x2="346.18" y2="304.1" stroke="#777" stroke-width="0.9"/>
<text x="333.23" y="499.90" style="font-size:14.6px" fill="#262626" stroke="#262626" stroke-width="0.2">3π/2</text>
<text x="436.48" y="499.90" style="font-size:14.6px" fill="#262626" stroke="#262626" stroke-width="0.2">2π</text>
<line x1="52.7" y1="300.3" x2="52.7" y2="481.0" stroke="#9cc6e6" stroke-width="1.4"/>
<line x1="52.7" y1="469.90" x2="56.5" y2="469.90" stroke="#6aa3d5" stroke-width="0.9"/>
<text x="41.24" y="474.80" style="font-size:14.6px" fill="#0072BD" stroke="#0072BD" stroke-width="0.2">0</text>
<line x1="52.7" y1="424.60" x2="56.5" y2="424.60" stroke="#6aa3d5" stroke-width="0.9"/>
<text x="33.94" y="429.50" style="font-size:14.6px" fill="#0072BD" stroke="#0072BD" stroke-width="0.2">20</text>
<line x1="52.7" y1="379.30" x2="56.5" y2="379.30" stroke="#6aa3d5" stroke-width="0.9"/>
<text x="33.94" y="384.20" style="font-size:14.6px" fill="#0072BD" stroke="#0072BD" stroke-width="0.2">40</text>
<line x1="52.7" y1="334.00" x2="56.5" y2="334.00" stroke="#6aa3d5" stroke-width="0.9"/>
<text x="33.94" y="338.90" style="font-size:14.6px" fill="#0072BD" stroke="#0072BD" stroke-width="0.2">60</text>
<line x1="444.0" y1="300.3" x2="444.0" y2="481.0" stroke="#f0b49a" stroke-width="1.4"/>
<line x1="444.0" y1="459.85" x2="440.2" y2="459.85" stroke="#e8906a" stroke-width="0.9"/>
<text x="448.36" y="464.75" style="font-size:14.6px" fill="#D95319" stroke="#D95319" stroke-width="0.2">-50</text>
<line x1="444.0" y1="423.50" x2="440.2" y2="423.50" stroke="#e8906a" stroke-width="0.9"/>
<text x="448.36" y="428.40" style="font-size:14.6px" fill="#D95319" stroke="#D95319" stroke-width="0.2">0</text>
<line x1="444.0" y1="387.15" x2="440.2" y2="387.15" stroke="#e8906a" stroke-width="0.9"/>
<text x="448.07" y="392.05" style="font-size:14.6px" fill="#D95319" stroke="#D95319" stroke-width="0.2">50</text>
<line x1="444.0" y1="350.80" x2="440.2" y2="350.80" stroke="#e8906a" stroke-width="0.9"/>
<text x="447.63" y="355.70" style="font-size:14.6px" fill="#D95319" stroke="#D95319" stroke-width="0.2">100</text>
<line x1="444.0" y1="314.45" x2="440.2" y2="314.45" stroke="#e8906a" stroke-width="0.9"/>
<text x="447.63" y="319.35" style="font-size:14.6px" fill="#D95319" stroke="#D95319" stroke-width="0.2">150</text>
<polyline points="52.70,469.90 53.35,469.90 54.00,469.88 54.66,469.86 55.31,469.82 55.96,469.78 56.61,469.72 57.27,469.66 57.92,469.58 58.57,469.50 59.22,469.41 59.87,469.30 60.53,469.19 61.18,469.07 61.83,468.93 62.48,468.79 63.13,468.64 63.79,468.48 64.44,468.31 65.09,468.13 65.74,467.94 66.40,467.74 67.05,467.54 67.70,467.32 68.35,467.10 69.00,466.87 69.66,466.62 70.31,466.37 70.96,466.12 71.61,465.85 72.27,465.57 72.92,465.29 73.57,465.00 74.22,464.70 74.87,464.40 75.53,464.08 76.18,463.76 76.83,463.43 77.48,463.10 78.13,462.75 78.79,462.41 79.44,462.05 80.09,461.69 80.74,461.32 81.40,460.94 82.05,460.56 82.70,460.18 83.35,459.78 84.00,459.39 84.66,458.98 85.31,458.57 85.96,458.16 86.61,457.74 87.26,457.32 87.92,456.89 88.57,456.46 89.22,456.03 89.87,455.59 90.53,455.15 91.18,454.70 91.83,454.25 92.48,453.80 93.13,453.34 93.79,452.88 94.44,452.42 95.09,451.96 95.74,451.49 96.40,451.03 97.05,450.56 97.70,450.09 98.35,449.62 99.00,449.15 99.66,448.67 100.31,448.20 100.96,447.72 101.61,447.25 102.26,446.78 102.92,446.30 103.57,445.83 104.22,445.35 104.87,444.88 105.53,444.41 106.18,443.94 106.83,443.47 107.48,443.01 108.13,442.54 108.79,442.08 109.44,441.62 110.09,441.16 110.74,440.70 111.40,440.25 112.05,439.80 112.70,439.35 113.35,438.91 114.00,438.47 114.66,438.04 115.31,437.61 115.96,437.18 116.61,436.76 117.26,436.34 117.92,435.92 118.57,435.52 119.22,435.11 119.87,434.72 120.53,434.32 121.18,433.94 121.83,433.56 122.48,433.18 123.13,432.81 123.79,432.45 124.44,432.09 125.09,431.75 125.74,431.40 126.39,431.07 127.05,430.74 127.70,430.42 128.35,430.10 129.00,429.80 129.66,429.50 130.31,429.21 130.96,428.93 131.61,428.65 132.26,428.38 132.92,428.13 133.57,427.88 134.22,427.63 134.87,427.40 135.53,427.18 136.18,426.96 136.83,426.76 137.48,426.56 138.13,426.37 138.79,426.19 139.44,426.02 140.09,425.86 140.74,425.71 141.39,425.57 142.05,425.43 142.70,425.31 143.35,425.20 144.00,425.09 144.66,425.00 145.31,424.92 145.96,424.84 146.61,424.78 147.26,424.72 147.92,424.68 148.57,424.64 149.22,424.62 149.87,424.60 150.53,424.60 151.18,424.60 151.83,424.62 152.48,424.64 153.13,424.68 153.79,424.72 154.44,424.78 155.09,424.84 155.74,424.92 156.39,425.00 157.05,425.09 157.70,425.20 158.35,425.31 159.00,425.43 159.66,425.57 160.31,425.71 160.96,425.86 161.61,426.02 162.26,426.19 162.92,426.37 163.57,426.56 164.22,426.76 164.87,426.96 165.52,427.18 166.18,427.40 166.83,427.63 167.48,427.88 168.13,428.13 168.79,428.38 169.44,428.65 170.09,428.93 170.74,429.21 171.39,429.50 172.05,429.80 172.70,430.10 173.35,430.42 174.00,430.74 174.66,431.07 175.31,431.40 175.96,431.75 176.61,432.09 177.26,432.45 177.92,432.81 178.57,433.18 179.22,433.56 179.87,433.94 180.52,434.32 181.18,434.72 181.83,435.11 182.48,435.52 183.13,435.92 183.79,436.34 184.44,436.76 185.09,437.18 185.74,437.61 186.39,438.04 187.05,438.47 187.70,438.91 188.35,439.35 189.00,439.80 189.66,440.25 190.31,440.70 190.96,441.16 191.61,441.62 192.26,442.08 192.92,442.54 193.57,443.01 194.22,443.47 194.87,443.94 195.52,444.41 196.18,444.88 196.83,445.35 197.48,445.83 198.13,446.30 198.79,446.78 199.44,447.25 200.09,447.72 200.74,448.20 201.39,448.67 202.05,449.15 202.70,449.62 203.35,450.09 204.00,450.56 204.65,451.03 205.31,451.49 205.96,451.96 206.61,452.42 207.26,452.88 207.92,453.34 208.57,453.80 209.22,454.25 209.87,454.70 210.52,455.15 211.18,455.59 211.83,456.03 212.48,456.46 213.13,456.89 213.79,457.32 214.44,457.74 215.09,458.16 215.74,458.57 216.39,458.98 217.05,459.39 217.70,459.78 218.35,460.18 219.00,460.56 219.65,460.94 220.31,461.32 220.96,461.69 221.61,462.05 222.26,462.41 222.92,462.75 223.57,463.10 224.22,463.43 224.87,463.76 225.52,464.08 226.18,464.40 226.83,464.70 227.48,465.00 228.13,465.29 228.79,465.57 229.44,465.85 230.09,466.12 230.74,466.37 231.39,466.62 232.05,466.87 232.70,467.10 233.35,467.32 234.00,467.54 234.65,467.74 235.31,467.94 235.96,468.13 236.61,468.31 237.26,468.48 237.92,468.64 238.57,468.79 239.22,468.93 239.87,469.07 240.52,469.19 241.18,469.30 241.83,469.41 242.48,469.50 243.13,469.58 243.78,469.66 244.44,469.72 245.09,469.78 245.74,469.82 246.39,469.86 247.05,469.88 247.70,469.90 248.35,469.90 249.00,469.90 249.65,469.88 250.31,469.86 250.96,469.82 251.61,469.78 252.26,469.72 252.92,469.66 253.57,469.58 254.22,469.50 254.87,469.41 255.52,469.30 256.18,469.19 256.83,469.07 257.48,468.93 258.13,468.79 258.78,468.64 259.44,468.48 260.09,468.31 260.74,468.13 261.39,467.94 262.05,467.74 262.70,467.54 263.35,467.32 264.00,467.10 264.65,466.87 265.31,466.62 265.96,466.37 266.61,466.12 267.26,465.85 267.92,465.57 268.57,465.29 269.22,465.00 269.87,464.70 270.52,464.40 271.18,464.08 271.83,463.76 272.48,463.43 273.13,463.10 273.78,462.75 274.44,462.41 275.09,462.05 275.74,461.69 276.39,461.32 277.05,460.94 277.70,460.56 278.35,460.18 279.00,459.78 279.65,459.39 280.31,458.98 280.96,458.57 281.61,458.16 282.26,457.74 282.91,457.32 283.57,456.89 284.22,456.46 284.87,456.03 285.52,455.59 286.18,455.15 286.83,454.70 287.48,454.25 288.13,453.80 288.78,453.34 289.44,452.88 290.09,452.42 290.74,451.96 291.39,451.49 292.05,451.03 292.70,450.56 293.35,450.09 294.00,449.62 294.65,449.15 295.31,448.67 295.96,448.20 296.61,447.72 297.26,447.25 297.91,446.78 298.57,446.30 299.22,445.83 299.87,445.35 300.52,444.88 301.18,444.41 301.83,443.94 302.48,443.47 303.13,443.01 303.78,442.54 304.44,442.08 305.09,441.62 305.74,441.16 306.39,440.70 307.05,440.25 307.70,439.80 308.35,439.35 309.00,438.91 309.65,438.47 310.31,438.04 310.96,437.61 311.61,437.18 312.26,436.76 312.91,436.34 313.57,435.93 314.22,435.52 314.87,435.11 315.52,434.72 316.18,434.32 316.83,433.94 317.48,433.56 318.13,433.18 318.78,432.81 319.44,432.45 320.09,432.09 320.74,431.75 321.39,431.40 322.04,431.07 322.70,430.74 323.35,430.42 324.00,430.10 324.65,429.80 325.31,429.50 325.96,429.21 326.61,428.93 327.26,428.65 327.91,428.38 328.57,428.13 329.22,427.88 329.87,427.63 330.52,427.40 331.18,427.18 331.83,426.96 332.48,426.76 333.13,426.56 333.78,426.37 334.44,426.19 335.09,426.02 335.74,425.86 336.39,425.71 337.04,425.57 337.70,425.43 338.35,425.31 339.00,425.20 339.65,425.09 340.31,425.00 340.96,424.92 341.61,424.84 342.26,424.78 342.91,424.72 343.57,424.68 344.22,424.64 344.87,424.62 345.52,424.60 346.18,424.60 346.83,424.60 347.48,424.62 348.13,424.64 348.78,424.68 349.44,424.72 350.09,424.78 350.74,424.84 351.39,424.92 352.04,425.00 352.70,425.09 353.35,425.20 354.00,425.31 354.65,425.43 355.31,425.57 355.96,425.71 356.61,425.86 357.26,426.02 357.91,426.19 358.57,426.37 359.22,426.56 359.87,426.76 360.52,426.96 361.17,427.18 361.83,427.40 362.48,427.63 363.13,427.88 363.78,428.13 364.44,428.38 365.09,428.65 365.74,428.93 366.39,429.21 367.04,429.50 367.70,429.80 368.35,430.10 369.00,430.42 369.65,430.74 370.31,431.07 370.96,431.40 371.61,431.75 372.26,432.09 372.91,432.45 373.57,432.81 374.22,433.18 374.87,433.56 375.52,433.94 376.17,434.32 376.83,434.72 377.48,435.11 378.13,435.52 378.78,435.92 379.44,436.34 380.09,436.76 380.74,437.18 381.39,437.61 382.04,438.04 382.70,438.47 383.35,438.91 384.00,439.35 384.65,439.80 385.31,440.25 385.96,440.70 386.61,441.16 387.26,441.62 387.91,442.08 388.57,442.54 389.22,443.01 389.87,443.47 390.52,443.94 391.17,444.41 391.83,444.88 392.48,445.35 393.13,445.83 393.78,446.30 394.44,446.78 395.09,447.25 395.74,447.72 396.39,448.20 397.04,448.67 397.70,449.15 398.35,449.62 399.00,450.09 399.65,450.56 400.30,451.03 400.96,451.49 401.61,451.96 402.26,452.42 402.91,452.88 403.57,453.34 404.22,453.80 404.87,454.25 405.52,454.70 406.17,455.15 406.83,455.59 407.48,456.03 408.13,456.46 408.78,456.89 409.44,457.32 410.09,457.74 410.74,458.16 411.39,458.57 412.04,458.98 412.70,459.39 413.35,459.78 414.00,460.18 414.65,460.56 415.30,460.94 415.96,461.32 416.61,461.69 417.26,462.05 417.91,462.41 418.57,462.75 419.22,463.10 419.87,463.43 420.52,463.76 421.17,464.08 421.83,464.40 422.48,464.70 423.13,465.00 423.78,465.29 424.44,465.57 425.09,465.85 425.74,466.12 426.39,466.37 427.04,466.62 427.70,466.87 428.35,467.10 429.00,467.32 429.65,467.54 430.30,467.74 430.96,467.94 431.61,468.13 432.26,468.31 432.91,468.48 433.57,468.64 434.22,468.79 434.87,468.93 435.52,469.07 436.17,469.19 436.83,469.30 437.48,469.41 438.13,469.50 438.78,469.58 439.43,469.66 440.09,469.72 440.74,469.78 441.39,469.82 442.04,469.86 442.70,469.88 443.35,469.90 444.00,469.90" fill="none" stroke="#FF00FF" stroke-width="2.8"/>
<polyline points="52.70,469.90 53.35,469.90 54.00,469.91 54.66,469.92 55.31,469.93 55.96,469.94 56.61,469.96 57.27,469.98 57.92,470.00 58.57,470.02 59.22,470.06 59.87,470.12 60.53,470.18 61.18,470.25 61.83,470.33 62.48,470.41 63.13,470.49 63.79,470.57 64.44,470.65 65.09,470.74 65.74,470.84 66.40,470.94 67.05,471.04 67.70,471.15 68.35,471.25 69.00,471.35 69.66,471.45 70.31,471.54 70.96,471.64 71.61,471.74 72.27,471.84 72.92,471.94 73.57,472.03 74.22,472.12 74.87,472.20 75.53,472.26 76.18,472.31 76.83,472.36 77.48,472.40 78.13,472.44 78.79,472.47 79.44,472.49 80.09,472.50 80.74,472.49 81.40,472.46 82.05,472.41 82.70,472.35 83.35,472.29 84.00,472.22 84.66,472.14 85.31,472.06 85.96,471.96 86.61,471.84 87.26,471.71 87.92,471.56 88.57,471.39 89.22,471.22 89.87,471.04 90.53,470.84 91.18,470.62 91.83,470.38 92.48,470.13 93.13,469.85 93.79,469.56 94.44,469.26 95.09,468.96 95.74,468.64 96.40,468.29 97.05,467.94 97.70,467.56 98.35,467.16 99.00,466.75 99.66,466.33 100.31,465.89 100.96,465.42 101.61,464.93 102.26,464.41 102.92,463.87 103.57,463.32 104.22,462.75 104.87,462.16 105.53,461.54 106.18,460.90 106.83,460.23 107.48,459.55 108.13,458.86 108.79,458.14 109.44,457.39 110.09,456.63 110.74,455.87 111.40,455.10 112.05,454.35 112.70,453.60 113.35,452.85 114.00,452.10 114.66,451.35 115.31,450.60 115.96,449.85 116.61,449.08 117.26,448.31 117.92,447.54 118.57,446.76 119.22,445.99 119.87,445.23 120.53,444.47 121.18,443.72 121.83,442.96 122.48,442.21 123.13,441.47 123.79,440.74 124.44,440.02 125.09,439.31 125.74,438.60 126.39,437.91 127.05,437.21 127.70,436.52 128.35,435.83 129.00,435.12 129.66,434.42 130.31,433.73 130.96,433.04 131.61,432.38 132.26,431.74 132.92,431.11 133.57,430.48 134.22,429.86 134.87,429.29 135.53,428.75 136.18,428.27 136.83,427.82 137.48,427.38 138.13,426.97 138.79,426.59 139.44,426.25 140.09,425.95 140.74,425.72 141.39,425.50 142.05,425.31 142.70,425.13 143.35,424.99 144.00,424.87 144.66,424.78 145.31,424.71 145.96,424.65 146.61,424.61 147.26,424.60 147.92,424.60 148.57,424.60 149.22,424.60 149.87,424.60 150.53,424.60 151.18,424.60 151.83,424.60 152.48,424.60 153.13,424.60 153.79,424.60 154.44,424.61 155.09,424.65 155.74,424.71 156.39,424.78 157.05,424.87 157.70,424.99 158.35,425.13 159.00,425.31 159.66,425.50 160.31,425.72 160.96,425.95 161.61,426.25 162.26,426.59 162.92,426.97 163.57,427.38 164.22,427.82 164.87,428.27 165.52,428.75 166.18,429.29 166.83,429.86 167.48,430.48 168.13,431.11 168.79,431.74 169.44,432.38 170.09,433.04 170.74,433.73 171.39,434.42 172.05,435.12 172.70,435.83 173.35,436.52 174.00,437.21 174.66,437.91 175.31,438.60 175.96,439.31 176.61,440.02 177.26,440.74 177.92,441.47 178.57,442.21 179.22,442.96 179.87,443.72 180.52,444.47 181.18,445.23 181.83,445.99 182.48,446.76 183.13,447.54 183.79,448.31 184.44,449.08 185.09,449.85 185.74,450.60 186.39,451.35 187.05,452.10 187.70,452.85 188.35,453.60 189.00,454.35 189.66,455.10 190.31,455.87 190.96,456.63 191.61,457.39 192.26,458.14 192.92,458.86 193.57,459.55 194.22,460.23 194.87,460.90 195.52,461.54 196.18,462.16 196.83,462.75 197.48,463.32 198.13,463.87 198.79,464.41 199.44,464.93 200.09,465.42 200.74,465.89 201.39,466.33 202.05,466.75 202.70,467.16 203.35,467.56 204.00,467.94 204.65,468.29 205.31,468.64 205.96,468.96 206.61,469.26 207.26,469.56 207.92,469.85 208.57,470.13 209.22,470.38 209.87,470.62 210.52,470.84 211.18,471.04 211.83,471.22 212.48,471.39 213.13,471.56 213.79,471.71 214.44,471.84 215.09,471.96 215.74,472.06 216.39,472.14 217.05,472.22 217.70,472.29 218.35,472.35 219.00,472.41 219.65,472.46 220.31,472.49 220.96,472.50 221.61,472.49 222.26,472.47 222.92,472.44 223.57,472.40 224.22,472.36 224.87,472.31 225.52,472.26 226.18,472.20 226.83,472.12 227.48,472.03 228.13,471.94 228.79,471.84 229.44,471.74 230.09,471.64 230.74,471.54 231.39,471.45 232.05,471.35 232.70,471.25 233.35,471.15 234.00,471.04 234.65,470.94 235.31,470.84 235.96,470.74 236.61,470.65 237.26,470.57 237.92,470.49 238.57,470.41 239.22,470.33 239.87,470.25 240.52,470.18 241.18,470.12 241.83,470.06 242.48,470.02 243.13,470.00 243.78,469.98 244.44,469.96 245.09,469.94 245.74,469.93 246.39,469.92 247.05,469.91 247.70,469.90 248.35,469.90 249.00,469.90 249.65,469.91 250.31,469.92 250.96,469.93 251.61,469.94 252.26,469.96 252.92,469.98 253.57,470.00 254.22,470.02 254.87,470.06 255.52,470.12 256.18,470.18 256.83,470.25 257.48,470.33 258.13,470.41 258.78,470.49 259.44,470.57 260.09,470.65 260.74,470.74 261.39,470.84 262.05,470.94 262.70,471.04 263.35,471.15 264.00,471.25 264.65,471.35 265.31,471.45 265.96,471.54 266.61,471.64 267.26,471.74 267.92,471.84 268.57,471.94 269.22,472.03 269.87,472.12 270.52,472.20 271.18,472.26 271.83,472.31 272.48,472.36 273.13,472.40 273.78,472.44 274.44,472.47 275.09,472.49 275.74,472.50 276.39,472.49 277.05,472.46 277.70,472.41 278.35,472.35 279.00,472.29 279.65,472.22 280.31,472.14 280.96,472.06 281.61,471.96 282.26,471.84 282.91,471.71 283.57,471.56 284.22,471.39 284.87,471.22 285.52,471.04 286.18,470.84 286.83,470.62 287.48,470.38 288.13,470.13 288.78,469.85 289.44,469.56 290.09,469.26 290.74,468.96 291.39,468.64 292.05,468.29 292.70,467.94 293.35,467.56 294.00,467.16 294.65,466.75 295.31,466.33 295.96,465.89 296.61,465.42 297.26,464.93 297.91,464.41 298.57,463.87 299.22,463.32 299.87,462.75 300.52,462.16 301.18,461.54 301.83,460.90 302.48,460.23 303.13,459.55 303.78,458.86 304.44,458.14 305.09,457.39 305.74,456.63 306.39,455.87 307.05,455.10 307.70,454.35 308.35,453.60 309.00,452.85 309.65,452.10 310.31,451.35 310.96,450.60 311.61,449.85 312.26,449.08 312.91,448.31 313.57,447.54 314.22,446.76 314.87,445.99 315.52,445.23 316.18,444.47 316.83,443.72 317.48,442.96 318.13,442.21 318.78,441.47 319.44,440.74 320.09,440.02 320.74,439.31 321.39,438.60 322.04,437.91 322.70,437.21 323.35,436.52 324.00,435.83 324.65,435.12 325.31,434.42 325.96,433.73 326.61,433.04 327.26,432.38 327.91,431.74 328.57,431.11 329.22,430.48 329.87,429.86 330.52,429.29 331.18,428.75 331.83,428.27 332.48,427.82 333.13,427.38 333.78,426.97 334.44,426.59 335.09,426.25 335.74,425.95 336.39,425.72 337.04,425.50 337.70,425.31 338.35,425.13 339.00,424.99 339.65,424.87 340.31,424.78 340.96,424.71 341.61,424.65 342.26,424.61 342.91,424.60 343.57,424.60 344.22,424.60 344.87,424.60 345.52,424.60 346.18,424.60 346.83,424.60 347.48,424.60 348.13,424.60 348.78,424.60 349.44,424.60 350.09,424.61 350.74,424.65 351.39,424.71 352.04,424.78 352.70,424.87 353.35,424.99 354.00,425.13 354.65,425.31 355.31,425.50 355.96,425.72 356.61,425.95 357.26,426.25 357.91,426.59 358.57,426.97 359.22,427.38 359.87,427.82 360.52,428.27 361.17,428.75 361.83,429.29 362.48,429.86 363.13,430.48 363.78,431.11 364.44,431.74 365.09,432.38 365.74,433.04 366.39,433.73 367.04,434.42 367.70,435.12 368.35,435.83 369.00,436.52 369.65,437.21 370.31,437.91 370.96,438.60 371.61,439.31 372.26,440.02 372.91,440.74 373.57,441.47 374.22,442.21 374.87,442.96 375.52,443.72 376.17,444.47 376.83,445.23 377.48,445.99 378.13,446.76 378.78,447.54 379.44,448.31 380.09,449.08 380.74,449.85 381.39,450.60 382.04,451.35 382.70,452.10 383.35,452.85 384.00,453.60 384.65,454.35 385.31,455.10 385.96,455.87 386.61,456.63 387.26,457.39 387.91,458.14 388.57,458.86 389.22,459.55 389.87,460.23 390.52,460.90 391.17,461.54 391.83,462.16 392.48,462.75 393.13,463.32 393.78,463.87 394.44,464.41 395.09,464.93 395.74,465.42 396.39,465.89 397.04,466.33 397.70,466.75 398.35,467.16 399.00,467.56 399.65,467.94 400.30,468.29 400.96,468.64 401.61,468.96 402.26,469.26 402.91,469.56 403.57,469.85 404.22,470.13 404.87,470.38 405.52,470.62 406.17,470.84 406.83,471.04 407.48,471.22 408.13,471.39 408.78,471.56 409.44,471.71 410.09,471.84 410.74,471.96 411.39,472.06 412.04,472.14 412.70,472.22 413.35,472.29 414.00,472.35 414.65,472.41 415.30,472.46 415.96,472.49 416.61,472.50 417.26,472.49 417.91,472.47 418.57,472.44 419.22,472.40 419.87,472.36 420.52,472.31 421.17,472.26 421.83,472.20 422.48,472.12 423.13,472.03 423.78,471.94 424.44,471.84 425.09,471.74 425.74,471.64 426.39,471.54 427.04,471.45 427.70,471.35 428.35,471.25 429.00,471.15 429.65,471.04 430.30,470.94 430.96,470.84 431.61,470.74 432.26,470.65 432.91,470.57 433.57,470.49 434.22,470.41 434.87,470.33 435.52,470.25 436.17,470.18 436.83,470.12 437.48,470.06 438.13,470.02 438.78,470.00 439.43,469.98 440.09,469.96 440.74,469.94 441.39,469.93 442.04,469.92 442.70,469.91 443.35,469.90 444.00,469.90" fill="none" stroke="#0072BD" stroke-width="2.8"/>
<polyline points="52.70,423.50 53.35,423.50 54.00,423.50 54.66,423.50 55.31,423.50 55.96,423.50 56.61,423.50 57.27,423.50 57.92,423.50 58.57,423.52 59.22,423.59 59.87,423.70 60.53,423.84 61.18,423.99 61.83,424.16 62.48,424.34 63.13,424.59 63.79,424.90 64.44,425.23 65.09,425.59 65.74,425.95 66.40,426.30 67.05,426.62 67.70,426.95 68.35,427.32 69.00,427.70 69.66,428.09 70.31,428.47 70.96,428.83 71.61,429.14 72.27,429.40 72.92,429.59 73.57,429.69 74.22,429.69 74.87,429.61 75.53,429.47 76.18,429.26 76.83,429.00 77.48,428.71 78.13,428.39 78.79,428.03 79.44,427.47 80.09,426.73 80.74,425.86 81.40,424.89 82.05,423.89 82.70,422.89 83.35,421.81 84.00,420.64 84.66,419.37 85.31,418.03 85.96,416.64 86.61,415.19 87.26,413.72 87.92,412.23 88.57,410.74 89.22,409.26 89.87,407.81 90.53,406.40 91.18,405.03 91.83,403.74 92.48,402.49 93.13,401.24 93.79,399.99 94.44,398.75 95.09,397.53 95.74,396.31 96.40,395.11 97.05,393.93 97.70,392.76 98.35,391.61 99.00,390.48 99.66,389.37 100.31,388.28 100.96,387.22 101.61,386.19 102.26,385.18 102.92,384.18 103.57,383.18 104.22,382.20 104.87,381.23 105.53,380.29 106.18,379.37 106.83,378.48 107.48,377.62 108.13,376.80 108.79,376.02 109.44,375.29 110.09,374.59 110.74,373.90 111.40,373.23 112.05,372.58 112.70,371.99 113.35,371.47 114.00,371.05 114.66,370.73 115.31,370.46 115.96,370.20 116.61,369.97 117.26,369.79 117.92,369.66 118.57,369.60 119.22,369.65 119.87,369.82 120.53,370.10 121.18,370.48 121.83,370.91 122.48,371.40 123.13,371.91 123.79,372.59 124.44,373.47 125.09,374.53 125.74,375.74 126.39,377.05 127.05,378.45 127.70,379.90 128.35,381.52 129.00,383.44 129.66,385.57 130.31,387.87 130.96,390.25 131.61,392.66 132.26,395.03 132.92,397.30 133.57,399.40 134.22,401.37 134.87,403.36 135.53,405.36 136.18,407.32 136.83,409.21 137.48,411.01 138.13,412.68 138.79,414.19 139.44,415.51 140.09,416.66 140.74,417.77 141.39,418.82 142.05,419.79 142.70,420.65 143.35,421.39 144.00,421.97 144.66,422.38 145.31,422.72 145.96,423.02 146.61,423.24 147.26,423.38 147.92,423.43 148.57,423.46 149.22,423.48 149.87,423.50 150.53,423.50 151.18,423.50 151.83,423.52 152.48,423.54 153.13,423.57 153.79,423.62 154.44,423.76 155.09,423.98 155.74,424.28 156.39,424.62 157.05,425.03 157.70,425.61 158.35,426.35 159.00,427.21 159.66,428.18 160.31,429.23 160.96,430.34 161.61,431.49 162.26,432.81 162.92,434.32 163.57,435.99 164.22,437.79 164.87,439.68 165.52,441.64 166.18,443.64 166.83,445.63 167.48,447.60 168.13,449.70 168.79,451.97 169.44,454.34 170.09,456.75 170.74,459.13 171.39,461.43 172.05,463.56 172.70,465.48 173.35,467.10 174.00,468.55 174.66,469.95 175.31,471.26 175.96,472.47 176.61,473.53 177.26,474.41 177.92,475.09 178.57,475.60 179.22,476.09 179.87,476.52 180.52,476.90 181.18,477.18 181.83,477.35 182.48,477.40 183.13,477.34 183.79,477.21 184.44,477.03 185.09,476.80 185.74,476.54 186.39,476.27 187.05,475.95 187.70,475.53 188.35,475.01 189.00,474.42 189.66,473.77 190.31,473.10 190.96,472.41 191.61,471.71 192.26,470.98 192.92,470.20 193.57,469.38 194.22,468.52 194.87,467.63 195.52,466.71 196.18,465.77 196.83,464.80 197.48,463.82 198.13,462.82 198.79,461.82 199.44,460.81 200.09,459.78 200.74,458.72 201.39,457.63 202.05,456.52 202.70,455.39 203.35,454.24 204.00,453.07 204.65,451.89 205.31,450.69 205.96,449.47 206.61,448.25 207.26,447.01 207.92,445.76 208.57,444.51 209.22,443.26 209.87,441.97 210.52,440.60 211.18,439.19 211.83,437.74 212.48,436.26 213.13,434.77 213.79,433.28 214.44,431.81 215.09,430.36 215.74,428.97 216.39,427.63 217.05,426.36 217.70,425.19 218.35,424.11 219.00,423.11 219.65,422.11 220.31,421.14 220.96,420.27 221.61,419.53 222.26,418.97 222.92,418.61 223.57,418.29 224.22,418.00 224.87,417.74 225.52,417.53 226.18,417.39 226.83,417.31 227.48,417.31 228.13,417.41 228.79,417.60 229.44,417.86 230.09,418.17 230.74,418.53 231.39,418.91 232.05,419.30 232.70,419.68 233.35,420.05 234.00,420.38 234.65,420.70 235.31,421.05 235.96,421.41 236.61,421.77 237.26,422.10 237.92,422.41 238.57,422.66 239.22,422.84 239.87,423.01 240.52,423.16 241.18,423.30 241.83,423.41 242.48,423.48 243.13,423.50 243.78,423.50 244.44,423.50 245.09,423.50 245.74,423.50 246.39,423.50 247.05,423.50 247.70,423.50 248.35,423.50 249.00,423.50 249.65,423.50 250.31,423.50 250.96,423.50 251.61,423.50 252.26,423.50 252.92,423.50 253.57,423.50 254.22,423.52 254.87,423.59 255.52,423.70 256.18,423.84 256.83,423.99 257.48,424.16 258.13,424.34 258.78,424.59 259.44,424.90 260.09,425.23 260.74,425.59 261.39,425.95 262.05,426.30 262.70,426.62 263.35,426.95 264.00,427.32 264.65,427.70 265.31,428.09 265.96,428.47 266.61,428.83 267.26,429.14 267.92,429.40 268.57,429.59 269.22,429.69 269.87,429.69 270.52,429.61 271.18,429.47 271.83,429.26 272.48,429.00 273.13,428.71 273.78,428.39 274.44,428.03 275.09,427.47 275.74,426.73 276.39,425.86 277.05,424.89 277.70,423.89 278.35,422.89 279.00,421.81 279.65,420.64 280.31,419.37 280.96,418.03 281.61,416.64 282.26,415.19 282.91,413.72 283.57,412.23 284.22,410.74 284.87,409.26 285.52,407.81 286.18,406.40 286.83,405.03 287.48,403.74 288.13,402.49 288.78,401.24 289.44,399.99 290.09,398.75 290.74,397.53 291.39,396.31 292.05,395.11 292.70,393.93 293.35,392.76 294.00,391.61 294.65,390.48 295.31,389.37 295.96,388.28 296.61,387.22 297.26,386.19 297.91,385.18 298.57,384.18 299.22,383.18 299.87,382.20 300.52,381.23 301.18,380.29 301.83,379.37 302.48,378.48 303.13,377.62 303.78,376.80 304.44,376.02 305.09,375.29 305.74,374.59 306.39,373.90 307.05,373.23 307.70,372.58 308.35,371.99 309.00,371.47 309.65,371.05 310.31,370.73 310.96,370.46 311.61,370.20 312.26,369.97 312.91,369.79 313.57,369.66 314.22,369.60 314.87,369.65 315.52,369.82 316.18,370.10 316.83,370.48 317.48,370.91 318.13,371.40 318.78,371.91 319.44,372.59 320.09,373.47 320.74,374.53 321.39,375.74 322.04,377.05 322.70,378.45 323.35,379.90 324.00,381.52 324.65,383.44 325.31,385.57 325.96,387.87 326.61,390.25 327.26,392.66 327.91,395.03 328.57,397.30 329.22,399.40 329.87,401.37 330.52,403.36 331.18,405.36 331.83,407.32 332.48,409.21 333.13,411.01 333.78,412.68 334.44,414.19 335.09,415.51 335.74,416.66 336.39,417.77 337.04,418.82 337.70,419.79 338.35,420.65 339.00,421.39 339.65,421.97 340.31,422.38 340.96,422.72 341.61,423.02 342.26,423.24 342.91,423.38 343.57,423.43 344.22,423.46 344.87,423.48 345.52,423.50 346.18,423.50 346.83,423.50 347.48,423.52 348.13,423.54 348.78,423.57 349.44,423.62 350.09,423.76 350.74,423.98 351.39,424.28 352.04,424.62 352.70,425.03 353.35,425.61 354.00,426.35 354.65,427.21 355.31,428.18 355.96,429.23 356.61,430.34 357.26,431.49 357.91,432.81 358.57,434.32 359.22,435.99 359.87,437.79 360.52,439.68 361.17,441.64 361.83,443.64 362.48,445.63 363.13,447.60 363.78,449.70 364.44,451.97 365.09,454.34 365.74,456.75 366.39,459.13 367.04,461.43 367.70,463.56 368.35,465.48 369.00,467.10 369.65,468.55 370.31,469.95 370.96,471.26 371.61,472.47 372.26,473.53 372.91,474.41 373.57,475.09 374.22,475.60 374.87,476.09 375.52,476.52 376.17,476.90 376.83,477.18 377.48,477.35 378.13,477.40 378.78,477.34 379.44,477.21 380.09,477.03 380.74,476.80 381.39,476.54 382.04,476.27 382.70,475.95 383.35,475.53 384.00,475.01 384.65,474.42 385.31,473.77 385.96,473.10 386.61,472.41 387.26,471.71 387.91,470.98 388.57,470.20 389.22,469.38 389.87,468.52 390.52,467.63 391.17,466.71 391.83,465.77 392.48,464.80 393.13,463.82 393.78,462.82 394.44,461.82 395.09,460.81 395.74,459.78 396.39,458.72 397.04,457.63 397.70,456.52 398.35,455.39 399.00,454.24 399.65,453.07 400.30,451.89 400.96,450.69 401.61,449.47 402.26,448.25 402.91,447.01 403.57,445.76 404.22,444.51 404.87,443.26 405.52,441.97 406.17,440.60 406.83,439.19 407.48,437.74 408.13,436.26 408.78,434.77 409.44,433.28 410.09,431.81 410.74,430.36 411.39,428.97 412.04,427.63 412.70,426.36 413.35,425.19 414.00,424.11 414.65,423.11 415.30,422.11 415.96,421.14 416.61,420.27 417.26,419.53 417.91,418.97 418.57,418.61 419.22,418.29 419.87,418.00 420.52,417.74 421.17,417.53 421.83,417.39 422.48,417.31 423.13,417.31 423.78,417.41 424.44,417.60 425.09,417.86 425.74,418.17 426.39,418.53 427.04,418.91 427.70,419.30 428.35,419.68 429.00,420.05 429.65,420.38 430.30,420.70 430.96,421.05 431.61,421.41 432.26,421.77 432.91,422.10 433.57,422.41 434.22,422.66 434.87,422.84 435.52,423.01 436.17,423.16 436.83,423.30 437.48,423.41 438.13,423.48 438.78,423.50 439.43,423.50 440.09,423.50 440.74,423.50 441.39,423.50 442.04,423.50 442.70,423.50 443.35,423.50 444.00,423.50" fill="none" stroke="#D95319" stroke-width="4.3" stroke-linejoin="round" stroke-linecap="round"/>
<line x1="64.2" y1="310.50" x2="77.9" y2="310.50" stroke="#FF00FF" stroke-width="2.3"/>
<line x1="64.2" y1="328.10" x2="77.9" y2="328.10" stroke="#0072BD" stroke-width="2.3"/>
<line x1="64.2" y1="345.40" x2="77.9" y2="345.40" stroke="#D95319" stroke-width="2.3"/>
<path d="M69.4,345.40L71,342.40L72.6,345.40L71,348.40Z" fill="#D95319"/>
<text x="97.35" y="250.70" textLength="242.50" lengthAdjust="spacingAndGlyphs" style="font-size:15.2px" fill="#262626" stroke="#262626" stroke-width="0.2">The angular displacement of input gear</text>
<text x="344.42" y="250.70" textLength="7.47" lengthAdjust="spacingAndGlyphs" style="font-size:15.2px;font-style:italic" fill="#262626" stroke="#262626" stroke-width="0.2">θ</text>
<text x="352.37" y="258.50" textLength="5.25" lengthAdjust="spacingAndGlyphs" style="font-size:10.5px" fill="#262626" stroke="#262626" stroke-width="0.2">1</text>
<text x="363.09" y="250.70" textLength="29.56" lengthAdjust="spacingAndGlyphs" style="font-size:15.2px" fill="#262626" stroke="#262626" stroke-width="0.2">(rad)</text>
<g transform="translate(24.1,222.2) rotate(-90)"><text x="-0.15" y="0.00" textLength="158.62" lengthAdjust="spacingAndGlyphs" style="font-size:15.3px" fill="#0072BD" stroke="#0072BD" stroke-width="0.2">The angular displacement</text></g>
<g transform="translate(24.1,222.2) rotate(-90)"><text x="167.17" y="1.00" textLength="7.86" lengthAdjust="spacingAndGlyphs" style="font-size:16.0px;font-style:italic" fill="#0072BD" stroke="#0072BD" stroke-width="0.2">θ</text></g>
<g transform="translate(24.1,222.2) rotate(-90)"><text x="174.66" y="8.10" textLength="5.70" lengthAdjust="spacingAndGlyphs" style="font-size:11.4px" fill="#0072BD" stroke="#0072BD" stroke-width="0.2">2</text></g>
<g transform="translate(24.1,222.2) rotate(-90)"><text x="185.41" y="0.00" textLength="28.52" lengthAdjust="spacingAndGlyphs" style="font-size:15.3px" fill="#0072BD" stroke="#0072BD" stroke-width="0.2">(rad)</text></g>
<g transform="translate(471.2,207.5) rotate(-90)"><text x="-0.18" y="0.00" textLength="157.20" lengthAdjust="spacingAndGlyphs" style="font-size:17.6px" fill="#D95319" stroke="#D95319" stroke-width="0.2">The transmission ratio</text></g>
<g transform="translate(471.2,207.5) rotate(-90)"><text x="166.29" y="0.00" textLength="4.89" lengthAdjust="spacingAndGlyphs" style="font-size:17.6px" fill="#D95319" stroke="#D95319" stroke-width="0.2">i</text></g>
<g transform="translate(471.2,207.5) rotate(-90)"><text x="171.61" y="8.80" textLength="12.22" lengthAdjust="spacingAndGlyphs" style="font-size:12.5px" fill="#D95319" stroke="#D95319" stroke-width="0.2">21</text></g>
<text x="83.92" y="31.80" textLength="54.12" lengthAdjust="spacingAndGlyphs" style="font-size:14.2px" fill="#000" stroke="#000" stroke-width="0.2">Face gear</text>
<text x="83.63" y="48.10" textLength="90.71" lengthAdjust="spacingAndGlyphs" style="font-size:14.2px" fill="#000" stroke="#000" stroke-width="0.2">Curve-face gear</text>
<text x="84.06" y="64.40" textLength="106.07" lengthAdjust="spacingAndGlyphs" style="font-size:14.2px" fill="#000" stroke="#000" stroke-width="0.2">Transmission ratio</text>
<text x="94.54" y="517.60" textLength="254.31" lengthAdjust="spacingAndGlyphs" style="font-size:16.0px" fill="#262626" stroke="#262626" stroke-width="0.2">The angular displacement of input gear</text>
<text x="352.72" y="517.60" textLength="7.86" lengthAdjust="spacingAndGlyphs" style="font-size:16.0px;font-style:italic" fill="#262626" stroke="#262626" stroke-width="0.2">θ</text>
<text x="361.14" y="525.60" textLength="5.50" lengthAdjust="spacingAndGlyphs" style="font-size:11.0px" fill="#262626" stroke="#262626" stroke-width="0.2">1</text>
<text x="372.67" y="517.60" textLength="30.61" lengthAdjust="spacingAndGlyphs" style="font-size:16.0px" fill="#262626" stroke="#262626" stroke-width="0.2">(rad)</text>
<g transform="translate(28.3,491.4) rotate(-90)"><text x="-0.16" y="0.00" textLength="149.63" lengthAdjust="spacingAndGlyphs" style="font-size:16.0px" fill="#0072BD" stroke="#0072BD" stroke-width="0.2">The liner displacement</text></g>
<g transform="translate(28.3,491.4) rotate(-90)"><text x="158.01" y="0.00" textLength="4.45" lengthAdjust="spacingAndGlyphs" style="font-size:16.0px" fill="#0072BD" stroke="#0072BD" stroke-width="0.2">l</text></g>
<g transform="translate(28.3,491.4) rotate(-90)"><text x="165.86" y="0.00" textLength="35.63" lengthAdjust="spacingAndGlyphs" style="font-size:16.0px" fill="#0072BD" stroke="#0072BD" stroke-width="0.2">(mm)</text></g>
<g transform="translate(485.8,495.4) rotate(-90)"><text x="-0.15" y="0.00" textLength="140.85" lengthAdjust="spacingAndGlyphs" style="font-size:14.8px" fill="#D95319" stroke="#D95319" stroke-width="0.2">The translating velocity</text></g>
<g transform="translate(485.8,495.4) rotate(-90)"><text x="149.20" y="0.00" textLength="7.40" lengthAdjust="spacingAndGlyphs" style="font-size:14.8px" fill="#D95319" stroke="#D95319" stroke-width="0.2">v</text></g>
<g transform="translate(485.8,495.4) rotate(-90)"><text x="156.32" y="7.70" textLength="5.25" lengthAdjust="spacingAndGlyphs" style="font-size:10.5px" fill="#D95319" stroke="#D95319" stroke-width="0.2">0</text></g>
<g transform="translate(485.8,495.4) rotate(-90)"><text x="165.59" y="0.00" textLength="44.07" lengthAdjust="spacingAndGlyphs" style="font-size:15.0px" fill="#D95319" stroke="#D95319" stroke-width="0.2">(mm/s)</text></g>
<text x="79.40" y="315.80" textLength="67.60" lengthAdjust="spacingAndGlyphs" style="font-size:14.8px" fill="#000" stroke="#000" stroke-width="0.2">Pitch curve</text>
<text x="79.70" y="333.00" textLength="114.57" lengthAdjust="spacingAndGlyphs" style="font-size:14.8px" fill="#000" stroke="#000" stroke-width="0.2">Axial displacement</text>
<text x="79.55" y="350.20" textLength="117.95" lengthAdjust="spacingAndGlyphs" style="font-size:14.8px" fill="#000" stroke="#000" stroke-width="0.2">Translating velocity</text>
<g transform="translate(5.18,276.5) scale(1.0629,1)" fill="#222" stroke="#222" stroke-width="0.2" style="font-size:12.3px"><text x="0" y="0">(</text><text x="4.10" y="0" style="font-weight:bold">a</text><text x="10.25" y="0">) the output angular displacement and transmission ratio</text></g>
<g transform="translate(5.19,540.8) scale(1.0384,1)" fill="#222" stroke="#222" stroke-width="0.2" style="font-size:12.3px"><text x="0" y="0">(</text><text x="4.10" y="0" style="font-weight:bold">b</text><text x="10.94" y="0">) the axial displacement and velocity of the curve-face gear</text></g>
</svg></body></html>
